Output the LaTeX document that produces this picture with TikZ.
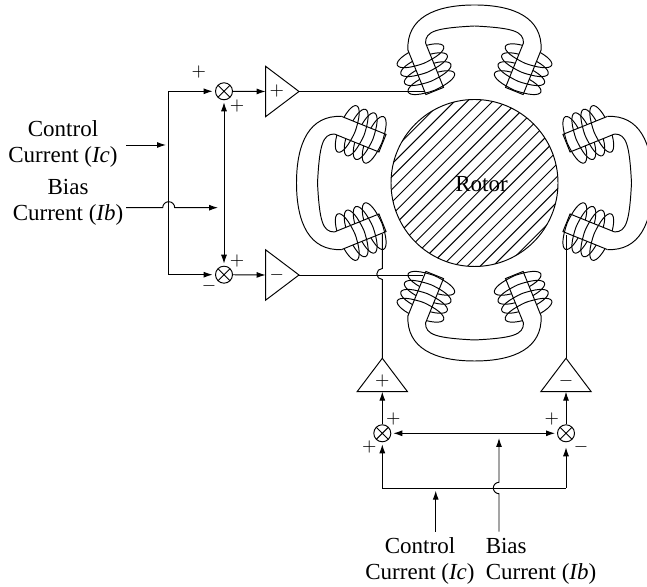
\documentclass[tikz,border=0pt]{standalone}
\usepackage{fontspec}
\setmainfont{Liberation Serif}
\usepackage{tikz}
\usetikzlibrary{arrows.meta,shapes.geometric,calc}
\newcommand{\coilbody}{%
  \foreach \h in {9,18.7,28.4,38} \draw[wire] (0,\h) ellipse [x radius=25,y radius=8];
  \fill[white] (-9.5,0) rectangle (9.5,48);
  \foreach \h in {9,18.7,28.4,38} \draw[wire] (-9.5,\h-7.4) .. controls (0,\h-8.6) .. (9.5,\h-7.4);
  \draw[wire] (-9.5,48)--(-9.5,0)--(9.5,0)--(9.5,48);
}
\tikzset{
  wire/.style={line width=0.48pt},
  sig/.style={wire,-{Latex[length=4.5pt,width=3pt]}},
  bisig/.style={wire,{Latex[length=4.5pt,width=3pt]}-{Latex[length=4.5pt,width=3pt]}},
  summer/.style={circle,draw,wire,inner sep=0pt,minimum size=8.5pt,
    path picture={\draw[wire] (path picture bounding box.north west)--(path picture bounding box.south east)
      (path picture bounding box.north east)--(path picture bounding box.south west);}},
  amp/.style={isosceles triangle,isosceles triangle stretches,draw,wire,inner sep=0pt,outer sep=0pt,
    minimum width=25.2pt,minimum height=16.7pt,font=\small},
  sgn/.style={inner sep=0pt,font=\small},
  lab/.style={inner sep=0pt,font=\fontsize{11.5}{13.3}\selectfont}
}
\begin{document}
\begin{tikzpicture}[x=0.5pt,y=0.5pt]
  \useasboundingbox (0,0) rectangle (647,587);
  % rotor
  \coordinate (rc) at (474.5,404);
  \begin{scope}
    \clip (rc) circle (83.5);
    \foreach \d in {-14,...,14} \draw[wire,shift={(rc)}] (\d*12.7-100,-100) -- ++(200,200);
  \end{scope}
  \draw[wire] (rc) circle (83.5);
  \node[lab] (rotor) at (481.5,403) {Rotor};
  % magnets
  \foreach \ang in {0,90,180,270}{
    \begin{scope}[shift={(rc)},rotate=\ang]
      \begin{scope}[shift={(-39.8,92)},rotate=22] \coilbody \end{scope}
      \begin{scope}[shift={(39.8,92)},rotate=-22] \coilbody \end{scope}
      \draw[wire] (-66.6,133) .. controls (-68,165) and (-40,178) .. (0,178)
                  .. controls (40,178) and (68,165) .. (66.6,133);
      \draw[wire] (-49,140) .. controls (-49,152) and (-38,155) .. (0,157)
                  .. controls (38,155) and (49,152) .. (49,140);
    \end{scope}
  }
  % left side
  \node[summer] (s1) at (224,495.7) {};
  \node[summer] (s2) at (224,312.3) {};
  \node[amp,anchor=apex] (a1) at (299,495.5) {$+$};
  \node[amp,anchor=apex] (a2) at (299,312) {$-$};
  \coordinate (tb) at (168.7,495.7);
  \coordinate (bb) at (168.7,312.3);
  \draw[sig,shorten >=1.2pt] (bb) -- (tb) -- (s1);
  \draw[sig,shorten >=1.2pt] (bb) -- (s2);
  \draw[sig] (s1) -- (a1.lower side);
  \draw[sig] (s2) -- (a2.lower side);
  \draw[bisig,shorten >=1pt,shorten <=1pt] (s1) -- (s2);
  \coordinate (cin) at (126,442);
  \coordinate (cend) at (166,442);
  \draw[sig] (cin) -- (cend);
  \coordinate (bin) at (126,379.3);
  \coordinate (bend) at (218,379.3);
  \draw[sig] (bin) -- (162.7,379.3) arc (180:0:6) -- (bend);
  \coordinate (w1) at (425,495.5);
  \coordinate (w2) at (422.7,312);
  \draw[wire] (a1.apex) -- (w1);
  \draw[wire] (a2.apex) -- (w2);
  % bottom side
  \node[summer] (s3) at (382.3,153.7) {};
  \node[summer] (s4) at (566,153.7) {};
  \node[amp,shape border rotate=90,anchor=apex] (b1) at (382.3,228.7) {$+$};
  \node[amp,shape border rotate=90,anchor=apex] (b2) at (566,228.7) {$-$};
  \draw[sig] (s3) -- (b1.lower side);
  \draw[sig] (s4) -- (b2.lower side);
  \draw[bisig,shorten >=1pt,shorten <=1pt] (s3) -- (s4);
  \draw[wire] (b1.apex) -- (382.3,307.5) arc (270:90:5.5) -- (382.3,353);
  \draw[wire] (b2.apex) -- (566,352);
  \coordinate (jl) at (382.3,99);
  \coordinate (jr) at (566,99);
  \draw[sig,shorten >=1pt] (jl) -- (s3);
  \draw[sig,shorten >=2.5pt] (jr) -- (s4);
  \draw[wire] (jl) -- (jr);
  \coordinate (cin2) at (435.7,55.3);
  \coordinate (cend2) at (435.7,96.3);
  \draw[sig] (cin2) -- (cend2);
  \coordinate (bin2) at (499,55.3);
  \coordinate (bend2) at (499,149);
  \draw[sig] (bin2) -- (499,93.3) arc (270:90:5.7) -- (bend2);
  % labels
  \node[lab,align=center] (lc) at (63,443) {Control\\Current (\textit{Ic})};
  \node[lab,align=center] (lb) at (68,384.5) {Bias\\Current (\textit{Ib})};
  \node[lab,align=center] (dc) at (420,26) {Control\\Current (\textit{Ic})};
  \node[lab,align=left] (db) at (541,25.5) {Bias\\Current (\textit{Ib})};
  \node[sgn] (p1) at (198.7,515) {$+$};
  \node[sgn] (p2) at (237,481.3) {$+$};
  \node[sgn] (p3) at (237,326) {$+$};
  \node[sgn] (m1) at (209,301) {$-$};
  \node[sgn] (p4) at (393.3,168) {$+$};
  \node[sgn] (p5) at (369.3,140.3) {$+$};
  \node[sgn] (p6) at (551.7,168) {$+$};
  \node[sgn] (m2) at (581,139.7) {$-$};
\end{tikzpicture}
\end{document}
